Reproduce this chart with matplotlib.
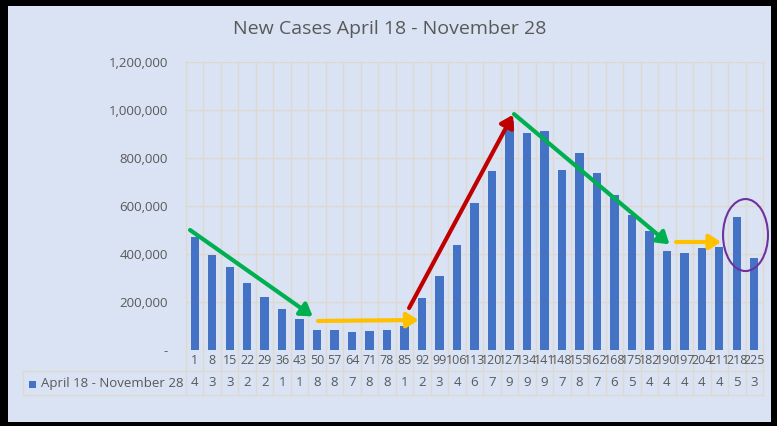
import numpy as np
import matplotlib
matplotlib.use("Agg")
import matplotlib.pyplot as plt
from matplotlib.patches import Rectangle, FancyArrowPatch, Ellipse

# day numbers (x categories) and new cases per week
days = ["1", "8", "15", "22", "29", "36", "43", "50", "57", "64", "71", "78",
        "85", "92", "99", "106", "113", "120", "127", "134", "141", "148",
        "155", "162", "168", "175", "182", "190", "197", "204", "211", "218", "225"]
cases = [472000, 397000, 347000, 280000, 222000, 172000, 130000, 85000, 85000,
         76000, 80000, 85000, 101000, 218000, 310000, 439000, 614000, 747000,
         956000, 906000, 914000, 751000, 822000, 739000, 647000, 564000, 497000,
         414000, 405000, 426000, 430000, 555000, 385000]
series_name = "April 18 - November 28"
title = "New Cases April 18 - November 28"

bg = "#dae3f3"
grid_c = "#ddd8d2"
txt_c = "#595959"
plt.rcParams["font.family"] = ["Open Sans", "DejaVu Sans"]

W, H = 777, 426
fig = plt.figure(figsize=(W / 100, H / 100), dpi=100, facecolor="black")
fig.patches.append(Rectangle((8 / W, 4 / H), (771 - 8) / W, (420 - 4) / H,
                             transform=fig.transFigure, facecolor=bg,
                             edgecolor="none", zorder=-5))

ax = fig.add_axes([186 / W, 1 - 350 / H, 577 / W, 288 / H])
ax.set_zorder(2)
ax.set_facecolor(bg)
n = len(cases)
x = np.arange(n)
ax.bar(x, cases, width=0.48, color="#4472c4", zorder=3)
ax.set_xlim(-0.5, n - 0.5)
ax.set_ylim(0, 1200000)

yt = np.arange(0, 1200001, 200000)
ax.set_yticks(yt)
ax.set_yticklabels(["-"] + [f"{v:,}" for v in yt[1:]], color=txt_c, fontsize=9.5)
ax.tick_params(axis="y", length=0, pad=13)
ax.set_xticks([])
for s in ax.spines.values():
    s.set_visible(False)
for v in yt:
    ax.axhline(v, color=grid_c, lw=1, zorder=1)

# table rows below the axis
r1 = -21 / 288
r2 = -45 / 288
tleft = (23 - 186) / 577 * n - 0.5
trans = ax.get_xaxis_transform()
for b in np.arange(n + 1) - 0.5:
    ax.plot([b, b], [1, r2], color=grid_c, lw=1, transform=trans,
            clip_on=False, zorder=1)
for yy in (r1, r2):
    ax.plot([tleft, n - 0.5], [yy, yy], color=grid_c, lw=1, transform=trans,
            clip_on=False)
ax.plot([tleft, tleft], [r1, r2], color=grid_c, lw=1, transform=trans, clip_on=False)

for i in range(n):
    ax.text(x[i], r1 / 2, days[i], ha="center", va="center", fontsize=9,
            color=txt_c, transform=trans, clip_on=False)
    ax.text(x[i], (r1 + r2) / 2, str(cases[i])[0], ha="center", va="center",
            fontsize=9.5, color=txt_c, transform=trans, clip_on=False)

fig.patches.append(Rectangle((29 / W, 1 - 388 / H), 7 / W, 7 / H,
                             transform=fig.transFigure, facecolor="#4472c4",
                             edgecolor="none"))
fig.text(41 / W, 1 - 383 / H, series_name, ha="left", va="center",
         fontsize=9.5, color=txt_c)

fig.text(390 / W, 1 - 29 / H, title, ha="center", va="center",
         fontsize=14, color=txt_c)

# trend arrows
arrows = [((-0.27, 500000), (6.75, 140000), "#00b050"),
          ((7.05, 121000), (12.8, 125000), "#ffc000"),
          ((12.26, 175000), (18.2, 980000), "#c00000"),
          ((18.26, 983000), (27.15, 440000), "#00b050"),
          ((27.53, 450000), (30.1, 450000), "#ffc000")]
for (x0, y0), (x1, y1), c in arrows:
    ax.add_patch(FancyArrowPatch((x0, y0), (x1, y1),
                                 arrowstyle="-|>,head_length=7,head_width=4.5",
                                 color=c, lw=3, shrinkA=0, shrinkB=0,
                                 zorder=5, clip_on=False))

ax.add_patch(Ellipse((31.5, 479000), 2.57, 300000, fill=False,
                     edgecolor="#7030a0", lw=1.5, zorder=6, clip_on=False))

fig.savefig("out.png", dpi=100, facecolor="black")
